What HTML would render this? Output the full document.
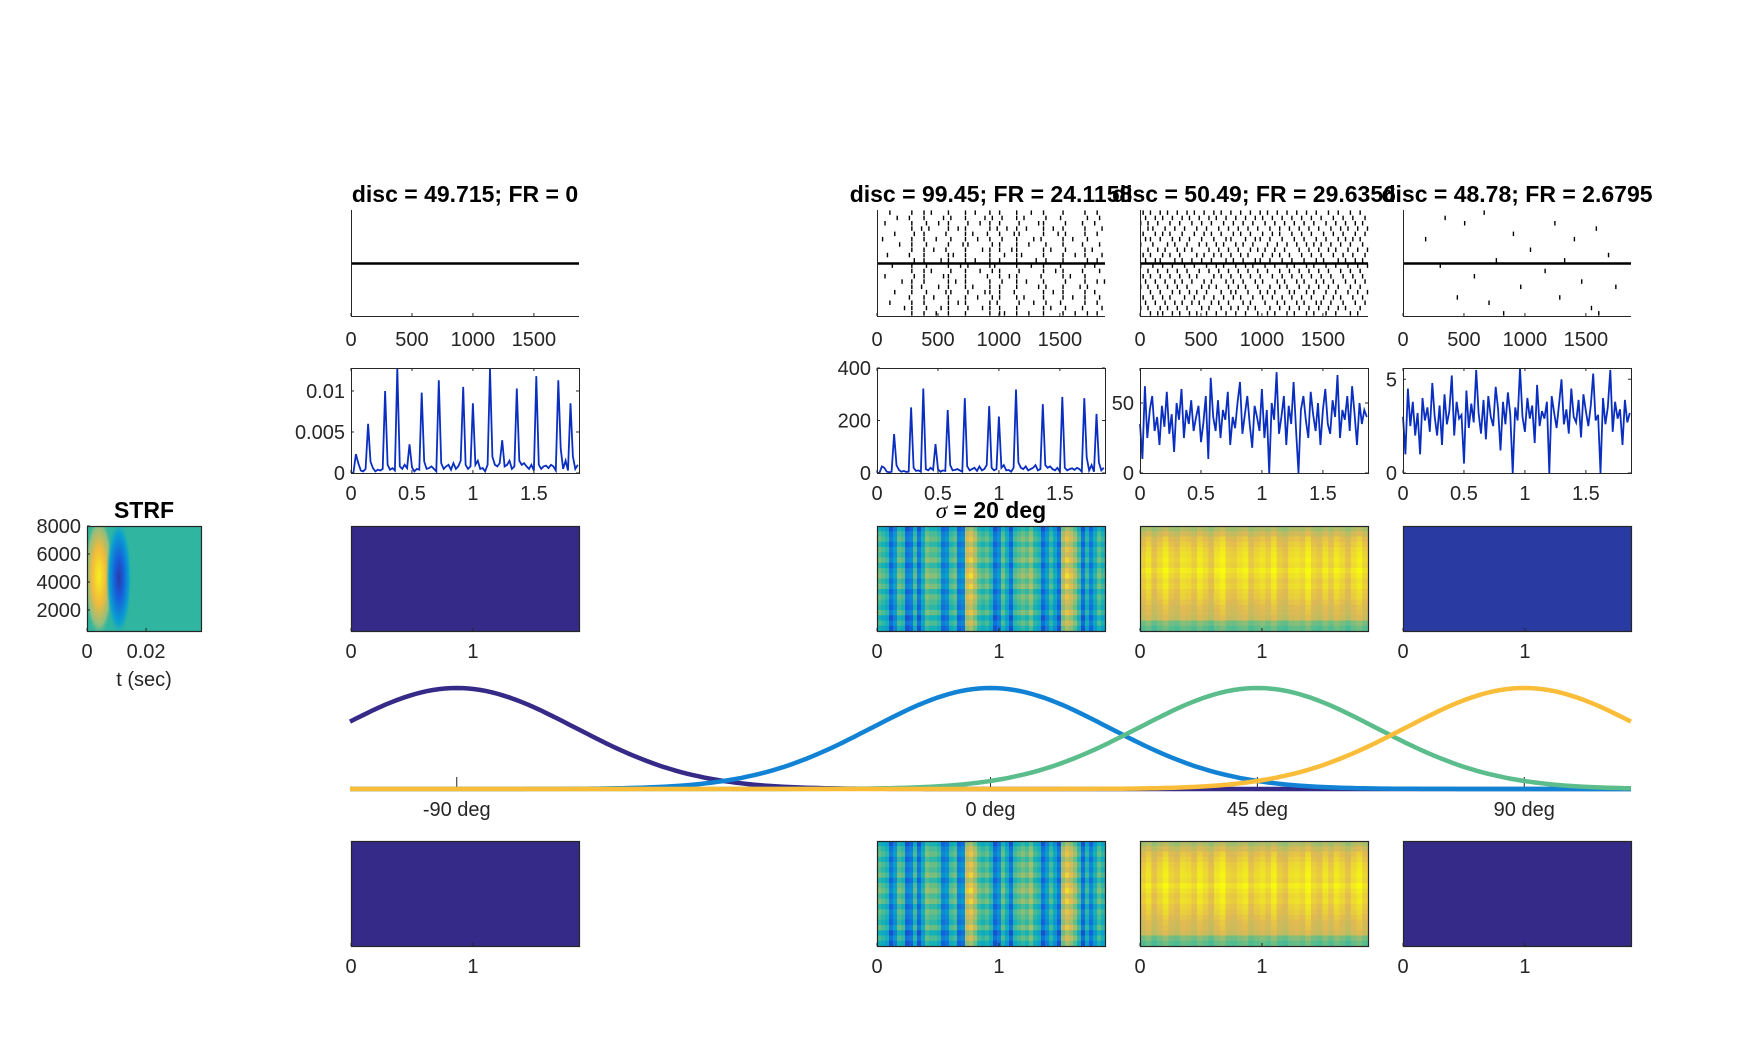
<!DOCTYPE html>
<html><head><meta charset="utf-8">
<style>
html,body{margin:0;padding:0;background:#fff;}
svg{display:block;font-family:"Liberation Sans",Arial,sans-serif;}
.tk{font-size:20px;fill:#262626;}
.tt{font-size:23px;font-weight:bold;fill:#000;}
</style></head>
<body>
<svg id="fig" width="1753" height="1052" viewBox="0 0 1753 1052" xmlns="http://www.w3.org/2000/svg">
<rect width="1753" height="1052" fill="#fff"/>
<g id="root"></g>
</svg>
<script>
// ---------- DATA ----------
const titles = ["disc = 49.715; FR = 0", "", "disc = 99.45; FR = 24.1158", "disc = 50.49; FR = 29.6356", "disc = 48.78; FR = 2.6795"];
const rasterTicks = [0, 500, 1000, 1500];
const rateTicksX = [0, 0.5, 1, 1.5];
const rateTicksXLabels = ["0", "0.5", "1", "1.5"];
const imgTicks = [0, 1];
const rate1 = [0,0,23,12,3,2,5,60,14,6,2,4,3,5,100,10,4,6,3,128,8,5,10,6,35,7,2,5,4,98,14,5,6,8,5,2,113,12,5,8,10,4,12,5,8,15,105,10,5,8,85,10,15,5,6,2,10,127,20,10,8,12,40,8,10,15,5,8,103,15,10,12,8,5,10,3,118,10,5,8,9,6,10,8,3,113,30,5,15,3,85,20,5,10];
const rate2 = [0,0,25,20,5,3,5,148,30,12,5,8,4,5,250,20,8,10,5,322,15,10,20,12,110,15,5,10,8,240,30,10,12,15,10,5,285,25,10,15,20,8,25,10,15,30,255,20,10,15,215,20,30,10,12,5,20,318,40,20,15,25,10,15,20,30,10,15,262,30,20,25,15,10,20,5,290,20,10,15,18,12,20,15,5,285,60,10,30,5,225,40,10,20];
const rate3 = [35,10,62,25,45,55,30,40,20,48,33,58,28,42,15,50,38,60,25,45,35,52,30,40,48,22,36,55,10,68,40,30,52,25,45,38,58,20,40,32,50,65,28,42,55,35,18,48,40,30,60,25,45,0,50,38,72,28,40,55,20,48,35,65,30,0,45,55,38,25,58,42,30,50,20,45,60,35,28,52,40,70,25,45,38,55,30,62,42,20,50,35,45,40];
const rate4 = [3,1,4.5,2.5,3.8,2,3.2,1,4,2.8,3.5,2.2,4.8,3,2,3.6,1.5,4.2,2.6,3.3,5.2,2,3.8,2.9,3.1,0.5,4.4,2.4,3.7,2.7,5.5,3.2,2.1,3.9,1.8,4.1,3,2.5,4.6,3.4,1.2,3.8,2.6,4.3,3.1,0,3.5,2.8,5.6,3,2.2,4,2.9,3.6,1.6,4.7,2.5,3.3,2.9,3.8,0,4.1,3.2,2.4,3.7,5,2.6,3.4,2.1,4.5,3,2.7,3.9,1.9,4.2,3.3,2.5,3.6,5.3,2.8,3.1,0,4,2.6,3.5,5.5,2.2,3.8,2.9,3.4,1.5,3.9,2.7,3.2];
const rateYmax = [0.0128, null, 400, 75, 5.6];
const rateYTicks1 = [0, 0.005, 0.01];
const rateYTicks2 = [0, 200, 400];
const rateYTicks3 = [0, 50];
const rateYTicks4 = [0, 5];
// spike times in 20 ms bins
const spikes2 = [[5,14,19,22,29,36,40,46,50,57,63,68,76,85,90],[8,13,19,27,30,36,44,47,51,57,60,69,75,86,91],[3,14,20,25,29,37,42,46,50,58,66,68,77,84,89],[14,18,21,29,33,36,46,49,53,57,61,68,72,76,85,92],[7,15,19,28,36,39,45,50,56,58,68,74,77,85,90],[2,14,19,24,30,36,41,46,51,57,64,67,76,80,86],[9,14,20,29,35,37,47,50,57,62,69,76,84,91],[14,19,23,28,36,43,46,50,55,57,68,71,77,85,88],[4,13,19,29,31,36,46,52,57,59,68,76,81,85,92],[15,19,26,29,36,40,46,50,57,65,69,76,86,90],[6,14,20,29,34,37,46,48,57,63,68,75,85,89],[14,19,22,30,36,42,47,50,58,68,73,76,84,91],[3,15,19,27,29,36,45,50,54,57,67,76,79,85],[10,14,19,29,32,36,46,51,57,61,68,77,85,90,93],[14,18,25,29,36,39,46,50,57,66,69,76,83,86],[7,14,20,28,30,37,44,46,50,56,68,72,76,85,89],[13,19,23,29,36,41,47,50,57,60,68,76,80,85,91],[5,14,19,29,33,36,46,49,58,64,69,75,85,90],[11,14,20,26,29,37,43,46,50,57,68,71,77,84,92],[14,19,24,29,36,46,50,52,57,62,68,76,81,86,90]];
const spikes3 = [[1,4,8,11,15,19,22,26,30,33,37,41,45,49,52,56,60,64,68,72,77,81,86,90],[2,6,9,13,17,20,24,28,31,35,39,43,47,50,54,58,62,66,70,74,79,83,87,92],[0,3,7,12,16,21,25,29,34,38,42,46,51,55,59,63,67,71,76,80,84,88,91],[3,5,10,14,18,23,27,32,36,40,44,48,53,57,61,65,69,73,78,82,85,89,93],[1,6,9,12,17,22,26,29,33,38,41,45,50,54,57,62,66,70,75,79,83,88,92],[2,4,8,13,16,20,25,30,35,37,43,47,49,53,58,63,67,72,76,81,84,87,90],[0,5,11,14,19,24,27,31,34,39,42,46,52,56,60,64,68,71,74,78,82,86,91],[3,7,10,15,18,21,28,32,36,40,45,48,51,55,59,65,69,73,77,80,85,89,93],[1,4,9,12,16,23,26,30,33,37,41,44,50,54,57,61,66,70,74,79,83,87,92],[2,6,8,14,17,21,25,29,35,38,42,47,49,53,58,62,67,72,75,81,84,88,91],[0,5,9,13,18,22,27,31,34,39,43,46,51,55,60,63,68,71,76,80,85,89,93],[3,7,11,15,19,24,28,32,36,40,44,48,52,57,61,65,69,73,77,82,86,90],[1,4,8,12,16,20,23,30,33,37,41,45,49,54,58,62,66,70,74,78,83,87,91],[2,6,10,14,17,21,26,29,35,38,42,47,50,56,59,64,67,72,75,79,84,88,92],[0,3,7,11,15,19,25,28,31,36,40,43,48,53,57,60,65,69,73,77,81,86,90],[4,8,13,16,20,23,27,33,37,39,44,49,52,55,61,63,68,71,76,80,85,89,93],[1,5,9,12,18,22,26,30,34,38,41,46,50,54,58,62,66,70,75,79,82,87,91],[2,6,10,14,17,21,24,29,32,36,42,45,51,56,59,64,67,72,74,78,83,88,92],[0,3,8,11,15,19,25,28,33,37,40,44,47,53,57,61,65,69,73,77,81,84,90],[4,7,9,13,16,20,23,27,31,35,39,43,48,52,55,60,63,68,71,76,80,86,89]];
const spikes4 = [[33],[17],[25,62],[79],[45],[9,70],[],[52],[84],[38,66],[15],[58],[29],[73],[48,87],[],[22,64],[35],[77],[41,80]];
// spectrogram column intensities (0..1) and per-row modulation
const spec2Cols = [.6,.55,.5,.2,.35,.6,.55,.2,.25,.55,.2,.45,.65,.6,.6,.55,.25,.3,.55,.6,.25,.3,.8,.85,.75,.6,.55,.6,.5,.2,.3,.6,.45,.2,.55,.6,.65,.6,.7,.55,.5,.2,.35,.55,.4,.2,.75,.85,.8,.7,.55,.2,.5,.25,.45,.6,.5];
const spec2Rows = [-.1,0,.05,-.05,.05,0,.08,-.05,.05,.1,0,.08,-.05,.05,0,-.05,.05,-.1,0,-.1];
const spec3Cols = [.86,.9,.84,.88,.92,.87,.85,.9,.89,.86,.91,.88,.84,.9,.93,.87,.86,.89,.91,.85,.88,.9,.87,.92,.86,.84,.89,.9,.88,.93,.87,.85,.9,.86,.91,.88,.84,.89,.92,.87];
const spec3Rows = [-.12,-.05,0,.02,.04,.05,.06,.05,.08,.06,.04,.05,.03,.02,0,-.02,-.03,-.05,-.2,-.25];
const spec4Value = 0.04;
const blankValue = 0;
const tuningCenters = [-90, 0, 45, 90];
const tuningSigma = 20;
const tuningColors = ["#352a87", "#1283d4", "#5cbd8c", "#f9bd3a"];
const tuningTicks = [-90, 0, 45, 90];
const tuningLabels = ["-90 deg", "0 deg", "45 deg", "90 deg"];
const strfYTicks = [2000, 4000, 6000, 8000];
const strfXTicks = [0, 0.02];

// ---------- LAYOUT ----------
const NS = "http://www.w3.org/2000/svg";
const root = document.getElementById("root");
const colX = [351, 614, 877, 1140, 1403], W = 228;
const R1 = [210, 316], R2 = [368, 473], R3 = [526, 631], R5 = [841, 946];
const TMAX = 1.87;
function mk(tag, attrs, parent) {
  const e = document.createElementNS(NS, tag);
  for (const k in attrs) e.setAttribute(k, attrs[k]);
  (parent || root).appendChild(e);
  return e;
}
function txt(s, x, y, cls, anchor, parent) {
  const t = mk("text", {x: x, y: y, class: cls, "text-anchor": anchor || "middle"}, parent);
  t.textContent = s;
  return t;
}
function parula(v) {
  v = Math.max(0, Math.min(1, v));
  const st = [[53,42,135],[15,92,221],[18,125,216],[7,156,207],[21,177,180],[89,189,140],[165,190,107],[225,185,82],[249,251,14]];
  const p = v * 8, i = Math.min(7, Math.floor(p)), f = p - i;
  const c = st[i].map((a, k) => Math.round(a + (st[i + 1][k] - a) * f));
  return "rgb(" + c.join(",") + ")";
}

// ---------- RASTERS ----------
const spikeSets = [null, null, spikes2, spikes3, spikes4];
[0, 2, 3, 4].forEach(ci => {
  const g = mk("g", {});
  
  
  const x0 = colX[ci];
  const sx = t => x0 + t / (TMAX * 1000) * W;
  const set = spikeSets[ci];
  if (set) {
    const rh = (R1[1] - R1[0]) / set.length;
    set.forEach((tr, r) => tr.forEach(b => {
      const s = mk("rect", {x: sx(b * 20), y: R1[0] + r * rh + 0.4, width: 1.4, height: rh - 0.8, fill: "#000"}, g);
      
      
    }));
  }
  mk("line", {x1: x0, y1: (R1[0] + R1[1]) / 2 + 0.5, x2: x0 + W, y2: (R1[0] + R1[1]) / 2 + 0.5, stroke: "#000", "stroke-width": 2.5}, g);
  mk("path", {d: `M${x0+0.5},${R1[0]}V${R1[1]+0.5}H${x0+W}`, fill: "none", stroke: "#262626", "stroke-width": 1}, g);
  rasterTicks.forEach(t => {
    mk("line", {x1: sx(t), y1: R1[1], x2: sx(t), y2: R1[1] - 3, stroke: "#262626"}, g);
    txt(String(t), sx(t), 346, "tk", "middle", g);
  });
  const tt = txt(titles[ci], x0 + W / 2, 202, "tt", "middle", g);
  
  
});

// ---------- RATES ----------
const rateSets = [rate1, null, rate2, rate3, rate4];
const rateYT = [rateYTicks1, null, rateYTicks2, rateYTicks3, rateYTicks4];
[0, 2, 3, 4].forEach(ci => {
  const g = mk("g", {});
  
  
  const x0 = colX[ci], ymax = rateYmax[ci];
  const sx = t => x0 + t / TMAX * W;
  const sy = v => R2[1] - v / ymax * (R2[1] - R2[0]);
  const vals = ci === 0 ? rate1.map(v => v * 1e-4) : rateSets[ci];
  const d = vals.map((v, i) => (i ? "L" : "M") + sx(i * 0.02).toFixed(1) + "," + sy(v).toFixed(1)).join("");
  const ln = mk("path", {d: d, fill: "none", stroke: "#0a2fc0", "stroke-width": 1.8}, g);
  
  
  mk("rect", {x: x0 + 0.5, y: R2[0] + 0.5, width: W, height: R2[1] - R2[0], fill: "none", stroke: "#262626"}, g);
  rateTicksX.forEach((t, k) => {
    mk("line", {x1: sx(t), y1: R2[1], x2: sx(t), y2: R2[1] - 3, stroke: "#262626"}, g);
    mk("line", {x1: sx(t), y1: R2[0], x2: sx(t), y2: R2[0] + 3, stroke: "#262626"}, g);
    txt(rateTicksXLabels[k], sx(t), 500, "tk", "middle", g);
  });
  rateYT[ci].forEach(v => {
    mk("line", {x1: x0, y1: sy(v), x2: x0 + 3, y2: sy(v), stroke: "#262626"}, g);
    mk("line", {x1: x0 + W, y1: sy(v), x2: x0 + W - 3, y2: sy(v), stroke: "#262626"}, g);
    txt(String(v), x0 - 6, sy(v) + 7, "tk", "end", g);
  });
});

// ---------- SPECTROGRAMS ----------
function spectro(x0, y0, cols, rows, name) {
  const g = mk("g", {});
  
  
  const h = R3[1] - R3[0];
  if (typeof cols === "number") {
    mk("rect", {x: x0, y: y0, width: W, height: h, fill: parula(cols)}, g);
  } else {
    const cw = W / cols.length, rh = h / rows.length;
    cols.forEach((c, i) => rows.forEach((r, j) => {
      mk("rect", {x: (x0 + i * cw).toFixed(2), y: (y0 + j * rh).toFixed(2), width: (cw + 0.3).toFixed(2), height: (rh + 0.3).toFixed(2), fill: parula(c + r)}, g);
    }));
  }
  mk("rect", {x: x0 + 0.5, y: y0 + 0.5, width: W, height: h, fill: "none", stroke: "#262626", "stroke-width": 1.2}, g);
  imgTicks.forEach(t => {
    const x = x0 + t / TMAX * W;
    mk("line", {x1: x, y1: y0 + h, x2: x, y2: y0 + h - 3, stroke: "#262626"}, g);
    txt(String(t), x, y0 + h + 27, "tk", "middle", g);
  });
}
spectro(colX[0], R3[0], blankValue, null, "stim-spec-0");
spectro(colX[2], R3[0], spec2Cols, spec2Rows, "stim-spec-2");
spectro(colX[3], R3[0], spec3Cols, spec3Rows, "stim-spec-3");
spectro(colX[4], R3[0], spec4Value, null, "stim-spec-4");
spectro(colX[0], R5[0], blankValue, null, "out-spec-0");
spectro(colX[2], R5[0], spec2Cols, spec2Rows, "out-spec-2");
spectro(colX[3], R5[0], spec3Cols, spec3Rows, "out-spec-3");
spectro(colX[4], R5[0], blankValue, null, "out-spec-4");
const sig = mk("text", {x: colX[2] + W / 2, y: 518, class: "tt", "text-anchor": "middle"});


sig.innerHTML = '<tspan font-style="italic" font-weight="normal" font-family="Liberation Serif, serif">σ</tspan> = 20 deg';

// ---------- TUNING CURVES ----------
(function () {
  const g = mk("g", {});
  
  
  const X0 = 350, X1 = 1631, base = 789, amp = 101, dmin = -108, dmax = 108;
  const sx = d => X0 + (d - dmin) / (dmax - dmin) * (X1 - X0);
  mk("line", {x1: X0, y1: base, x2: X1, y2: base, stroke: "#262626", "stroke-width": 1}, g);
  tuningTicks.forEach((t, k) => {
    mk("line", {x1: sx(t), y1: base, x2: sx(t), y2: base - 12, stroke: "#262626"}, g);
    txt(tuningLabels[k], sx(t), 816, "tk", "middle", g);
  });
  tuningCenters.forEach((c, k) => {
    let d = "";
    for (let a = dmin; a <= dmax + 0.01; a += 1) {
      const v = Math.exp(-((a - c) * (a - c)) / (2 * tuningSigma * tuningSigma));
      d += (a === dmin ? "M" : "L") + sx(a).toFixed(1) + "," + (base - v * amp).toFixed(1);
    }
    const p = mk("path", {d: d, fill: "none", stroke: tuningColors[k], "stroke-width": 4.5, "stroke-linejoin": "round"}, g);
    
    
  });
})();

// ---------- STRF ----------
(function () {
  const g = mk("g", {});
  
  
  const x0 = 87, w = 114, y0 = 526, h = 105;
  const defs = mk("defs", {}, g);
  defs.innerHTML = '<radialGradient id="gy" cx="0.5" cy="0.5" r="0.5"><stop offset="0" stop-color="#f7f01e"/><stop offset="0.45" stop-color="#f2bb3c"/><stop offset="0.8" stop-color="#8fbe7f"/><stop offset="1" stop-color="#30b6a0" stop-opacity="0"/></radialGradient>' +
    '<radialGradient id="gb" cx="0.5" cy="0.5" r="0.5"><stop offset="0" stop-color="#2c3aa8"/><stop offset="0.35" stop-color="#1560dc"/><stop offset="0.75" stop-color="#0aa0d0"/><stop offset="1" stop-color="#30b6a0" stop-opacity="0"/></radialGradient>' +
    '<clipPath id="sc"><rect x="87" y="526" width="114" height="105"/></clipPath>';
  mk("rect", {x: x0, y: y0, width: w, height: h, fill: "#30b5a0"}, g);
  const c = mk("g", {"clip-path": "url(#sc)"}, g);
  mk("ellipse", {cx: 99, cy: 576, rx: 15, ry: 62, fill: "url(#gy)"}, c);
  mk("ellipse", {cx: 119, cy: 578, rx: 13, ry: 60, fill: "url(#gb)"}, c);
  mk("rect", {x: x0 + 0.5, y: y0 + 0.5, width: w, height: h, fill: "none", stroke: "#262626", "stroke-width": 1.2}, g);
  const sy = v => y0 + h - (v - 500) / 7500 * h;
  const sx = t => x0 + t / 0.0386 * w;
  strfYTicks.forEach(v => {
    mk("line", {x1: x0, y1: sy(v), x2: x0 + 3, y2: sy(v), stroke: "#262626"}, g);
    txt(String(v), x0 - 6, sy(v) + 7, "tk", "end", g);
  });
  strfXTicks.forEach(t => {
    mk("line", {x1: sx(t), y1: y0 + h, x2: sx(t), y2: y0 + h - 3, stroke: "#262626"}, g);
    txt(String(t), sx(t), 658, "tk", "middle", g);
  });
  txt("t (sec)", x0 + w / 2, 686, "tk", "middle", g);
  txt("STRF", x0 + w / 2, 518, "tt", "middle", g);
})();
</script>
</body></html>
